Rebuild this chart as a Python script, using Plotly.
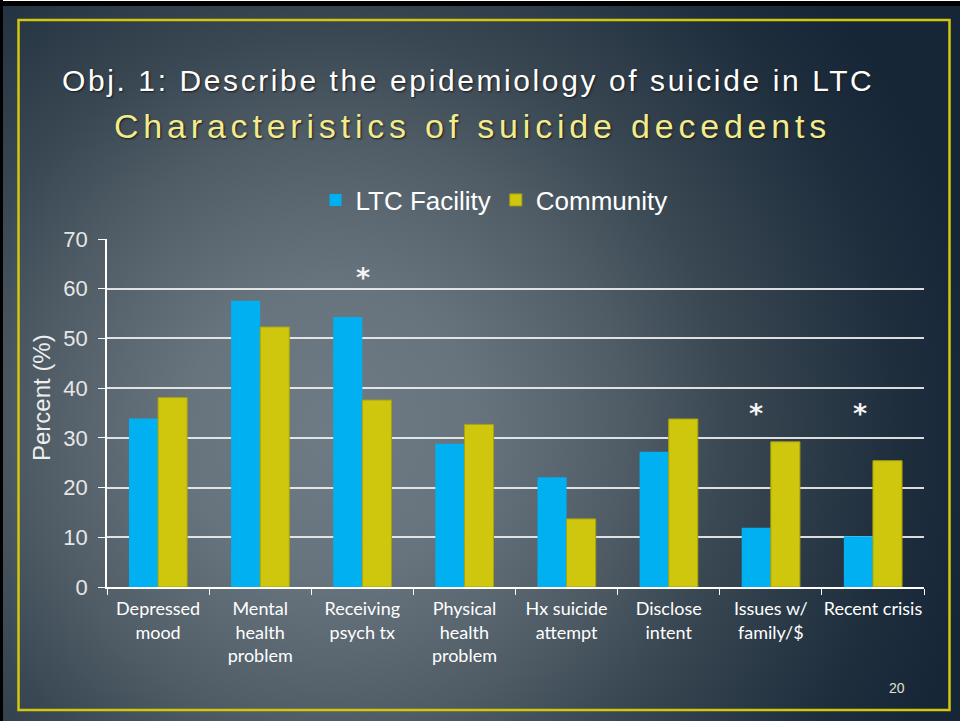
import base64
import plotly.graph_objects as go

categories = ["Depressed<br>mood", "Mental<br>health<br>problem", "Receiving<br>psych tx",
              "Physical<br>health<br>problem", "Hx suicide<br>attempt", "Disclose<br>intent",
              "Issues w/<br>family/$", "Recent crisis"]
ltc_values = [33.9, 57.6, 54.3, 28.8, 22.1, 27.2, 11.9, 10.2]
community_values = [38.1, 52.3, 37.6, 32.7, 13.7, 33.8, 29.2, 25.4]
star_categories = ["Receiving<br>psych tx", "Issues w/<br>family/$", "Recent crisis"]
star_y = [62.3, 35.0, 35.0]
star_xshift = [1, -15, -13]
y_ticks = [0, 10, 20, 30, 40, 50, 60, 70]

W, H = 960, 721
L, R, T, B = 107, 36, 239, 134
PW, PH = W - L - R, H - T - B


def px(x):
    return (x - L) / PW


def py(y):
    return 1 - (y - T) / PH


svg = f"""<svg xmlns="http://www.w3.org/2000/svg" width="{W}" height="{H}" viewBox="0 0 {W} {H}" preserveAspectRatio="none">
<defs><radialGradient id="g" cx="330" cy="430" r="660" gradientUnits="userSpaceOnUse">
<stop offset="0" stop-color="#6f7b84"/>
<stop offset="0.22" stop-color="#68747d"/>
<stop offset="0.45" stop-color="#4f5c66"/>
<stop offset="0.6" stop-color="#3a4853"/>
<stop offset="0.86" stop-color="#1f2e3d"/>
<stop offset="1" stop-color="#172637"/>
</radialGradient></defs>
<rect x="0" y="0" width="{W}" height="{H}" fill="url(#g)"/>
<rect x="0" y="0" width="{W}" height="6" fill="#000"/>
<rect x="0" y="0" width="{W}" height="1" fill="#fff"/>
<rect x="0" y="0" width="3" height="{H}" fill="#000"/>
<rect x="18.5" y="20" width="931" height="690" fill="none" stroke="#d2c70c" stroke-width="2.5"/>
</svg>"""
bg_uri = "data:image/svg+xml;base64," + base64.b64encode(svg.encode()).decode()

fig = go.Figure()
fig.add_trace(go.Bar(name="LTC Facility", x=categories, y=ltc_values,
                     marker=dict(color="#00b0f0", line=dict(width=0))))
fig.add_trace(go.Bar(name="Community", x=categories, y=community_values,
                     marker=dict(color="#cfc60e", line=dict(color="#aaa20c", width=1))))

for c, yv, xs in zip(star_categories, star_y, star_xshift):
    fig.add_annotation(x=c, y=yv, text="<b>*</b>", showarrow=False, xshift=xs,
                       font=dict(family="DejaVu Sans", size=27, color="#f4f4f4"))

fig.add_annotation(xref="paper", yref="paper", x=px(468), y=py(81),
                   text="<span style='letter-spacing:2.6px'>Obj. 1: Describe the epidemiology of suicide in LTC</span>",
                   showarrow=False, xanchor="center", yanchor="middle",
                   font=dict(family="Liberation Sans", size=30, color="#ffffff", shadow="1px 1px 2px #1a1a1a"))
fig.add_annotation(xref="paper", yref="paper", x=px(472), y=py(126),
                   text="<span style='letter-spacing:4.8px'>Characteristics of suicide decedents</span>",
                   showarrow=False, xanchor="center", yanchor="middle",
                   font=dict(family="Liberation Sans", size=34, color="#f3ec8c", shadow="1px 1px 2px #1a1a1a"))
fig.add_annotation(xref="paper", yref="paper", x=px(897), y=py(688), text="20",
                   showarrow=False, xanchor="center", yanchor="middle",
                   font=dict(family="Liberation Sans", size=14, color="#e0e0d0"))
fig.add_annotation(xref="paper", yref="paper", x=px(41), y=py(398), text="Percent (%)",
                   textangle=-90, showarrow=False, xanchor="center", yanchor="middle",
                   font=dict(family="Liberation Sans", size=24, color="#eeeeee"))

fig.update_layout(
    width=W, height=H,
    margin=dict(l=L, r=R, t=T, b=B, autoexpand=False),
    paper_bgcolor="#1f2e3d",
    plot_bgcolor="rgba(0,0,0,0)",
    barmode="group", bargap=0.43, bargroupgap=0,
    showlegend=True,
    legend=dict(orientation="h", x=px(494), xanchor="center", y=py(200), yanchor="middle",
                font=dict(family="Liberation Sans", size=26, color="#ffffff"),
                bgcolor="rgba(0,0,0,0)", itemwidth=30),
    images=[dict(source=bg_uri, xref="paper", yref="paper", x=-L / PW, y=1 + T / PH,
                 sizex=W / PW, sizey=H / PH, sizing="stretch", xanchor="left", yanchor="top",
                 layer="below")],
    xaxis=dict(showline=True, linecolor="#ffffff", linewidth=1.5,
               ticks="outside", tickson="boundaries", ticklen=6, tickcolor="#ffffff",
               tickangle=0, ticklabelstandoff=5,
               tickfont=dict(family="Lato", size=18, color="#ffffff"),
               showgrid=False, automargin=False),
    yaxis=dict(range=[0, 70], tickvals=y_ticks, showline=True, linecolor="#ffffff", linewidth=1.5,
               ticks="outside", ticklen=7, tickcolor="#ffffff",
               tickfont=dict(family="Liberation Sans", size=22, color="#e6e6e6"),
               gridcolor="rgba(240,240,240,0.9)", gridwidth=1.5, zeroline=False,
               automargin=False, ticklabelstandoff=6),
)

fig.write_html("out.html")
